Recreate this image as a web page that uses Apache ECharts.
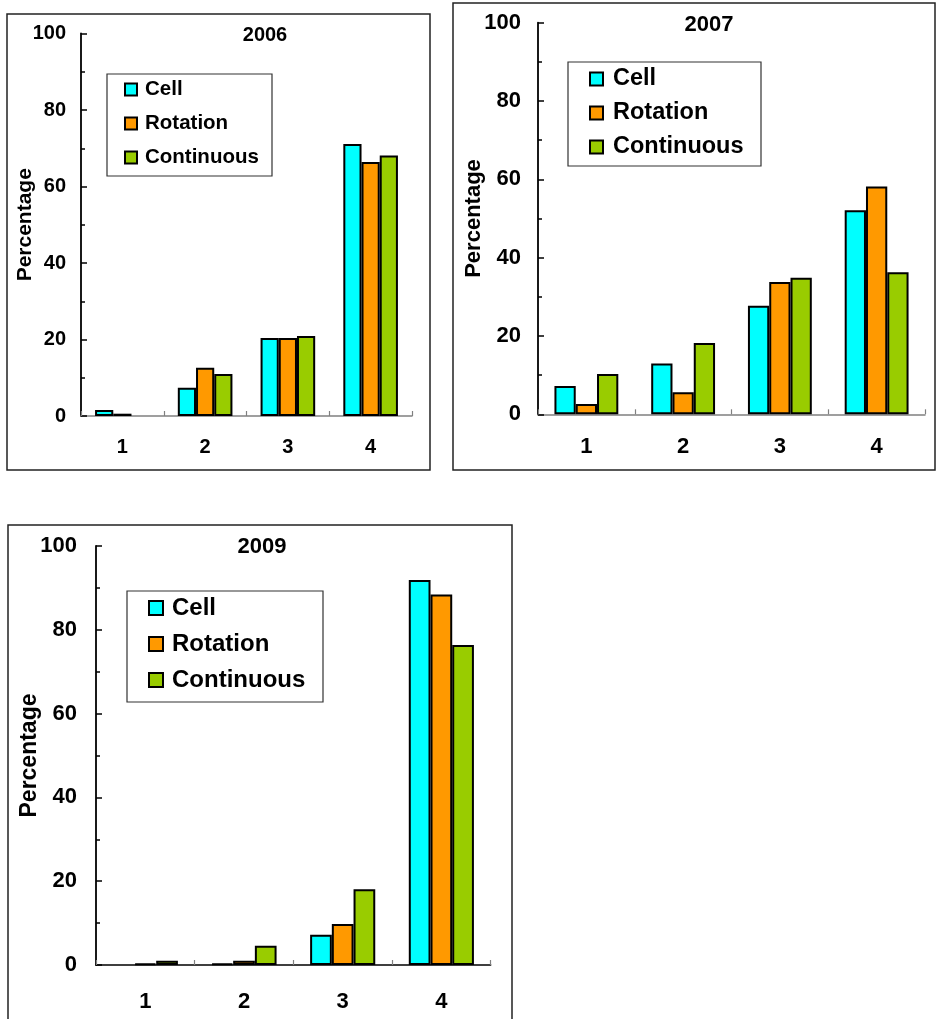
<!DOCTYPE html>
<html>
<head>
<meta charset="utf-8">
<style>
html,body{margin:0;padding:0;background:#fff;}
#chart{width:936px;height:1019px;}
</style>
<script src="https://cdn.jsdelivr.net/npm/echarts@6/dist/echarts.min.js"></script>
</head>
<body>
<div id="chart"></div>
<script>
const categories = ['1', '2', '3', '4'];
const seriesNames = ['Cell', 'Rotation', 'Continuous'];
const panelTitles = ['2006', '2007', '2009'];
const yTicks = [0, 20, 40, 60, 80, 100];

const cell2006 = [1.6, 7.4, 20.4, 71.1];
const rotation2006 = [0.6, 12.6, 20.4, 66.4];
const continuous2006 = [null, 11.0, 20.9, 68.1];

const cell2007 = [7.2, 13.0, 27.7, 52.1];
const rotation2007 = [2.6, 5.6, 33.8, 58.2];
const continuous2007 = [10.3, 18.2, 34.9, 36.3];

const cell2009 = [null, 0.3, 7.2, 91.9];
const rotation2009 = [0.3, 1.0, 9.8, 88.4];
const continuous2009 = [1.0, 4.6, 18.1, 76.4];

const FONT = '"Liberation Sans", Arial, sans-serif';
const colors = ['#00FFFF', '#FF9900', '#99CC00'];

const panelData = [
  [cell2006, rotation2006, continuous2006],
  [cell2007, rotation2007, continuous2007],
  [cell2009, rotation2009, continuous2009]
];

// layout per panel
const layout = [
  { grid: {left: 81, top: 33.5, width: 331, height: 382.5}, fs: 20, legFs: 20.5, nameFs: 21, labMargin: 15, xMargin: 21, nameGap: 45,
    title: {x: 265, y: 25}, legend: {left: 124, top: 79, gap: 13, icon: 12, tpad: 3},
    box: [107, 74, 165, 102], border: [7, 14, 423, 456], xColor: '#808080' },
  { grid: {left: 538, top: 22.7, width: 387, height: 391.6}, fs: 22, legFs: 23.5, nameFs: 22, labMargin: 17, xMargin: 22, nameGap: 53,
    title: {x: 709, y: 14}, legend: {left: 589, top: 67, gap: 10, icon: 13, tpad: 5},
    box: [568, 62, 193, 104], border: [453, 3, 482, 467], xColor: '#808080' },
  { grid: {left: 96, top: 546, width: 394.7, height: 419}, fs: 22, legFs: 24, nameFs: 23, labMargin: 19, xMargin: 26, nameGap: 55,
    title: {x: 262, y: 536}, legend: {left: 148, top: 596, gap: 12, icon: 14, tpad: 4},
    box: [127, 591, 196, 111], border: [8, 525, 504, 520], xColor: '#000' }
];

const grids = [], xAxes = [], yAxes = [], series = [], legends = [], titles = [], graphics = [];

layout.forEach((L, i) => {
  grids.push(Object.assign({containLabel: false}, L.grid));
  xAxes.push({
    type: 'category', gridIndex: i, data: categories,
    axisLine: {lineStyle: {color: L.xColor, width: 1.5}},
    axisTick: {show: true, inside: true, length: 5, lineStyle: {color: '#808080', width: 1.2}},
    axisLabel: {color: '#000', fontWeight: 'bold', fontSize: L.fs, fontFamily: FONT, margin: L.xMargin},
    splitLine: {show: false}
  });
  yAxes.push({
    type: 'value', gridIndex: i, min: yTicks[0], max: yTicks[yTicks.length - 1], interval: yTicks[1] - yTicks[0],
    name: 'Percentage', nameLocation: 'middle', nameRotate: 90, nameGap: L.nameGap,
    nameMoveOverlap: false,
    nameTextStyle: {color: '#000', fontWeight: 'bold', fontSize: L.nameFs, fontFamily: FONT},
    axisLine: {show: true, lineStyle: {color: '#000', width: 1.8}},
    axisTick: {show: true, inside: true, length: 6, lineStyle: {color: '#000', width: 1.5}},
    minorTick: {show: true, splitNumber: 2, length: 4, lineStyle: {color: '#000', width: 1.5}},
    axisLabel: {color: '#000', fontWeight: 'bold', fontSize: L.fs, fontFamily: FONT, margin: L.labMargin},
    splitLine: {show: false}
  });
  seriesNames.forEach((nm, k) => {
    series.push({
      type: 'bar', name: nm, xAxisIndex: i, yAxisIndex: i,
      data: panelData[i][k],
      barGap: '0%', barCategoryGap: '34%',
      itemStyle: {color: colors[k], borderColor: '#000', borderWidth: 2},
      emphasis: {disabled: true},
      animation: false
    });
  });
  legends.push({
    orient: 'vertical', left: L.legend.left, top: L.legend.top, padding: 0,
    itemGap: L.legend.gap, itemWidth: L.legend.icon, itemHeight: L.legend.icon,
    icon: 'rect', data: seriesNames, selectedMode: false,
    itemStyle: {borderColor: '#000', borderWidth: 2},
    textStyle: {color: '#000', fontWeight: 'bold', fontSize: L.legFs, fontFamily: FONT, padding: [0, 0, 0, L.legend.tpad]}
  });
  titles.push({
    text: panelTitles[i], left: L.title.x, top: L.title.y, textAlign: 'center', padding: 0,
    textStyle: {color: '#000', fontWeight: 'bold', fontSize: L.fs, fontFamily: FONT}
  });
  graphics.push({
    type: 'rect', shape: {x: L.border[0], y: L.border[1], width: L.border[2], height: L.border[3]},
    style: {fill: 'none', stroke: '#222', lineWidth: 1.5}, silent: true
  });
  graphics.push({
    type: 'rect', shape: {x: L.box[0], y: L.box[1], width: L.box[2], height: L.box[3]},
    style: {fill: 'none', stroke: '#333', lineWidth: 1.2}, silent: true
  });
});

const chart = echarts.init(document.getElementById('chart'), null, {renderer: 'canvas'});
chart.setOption({
  backgroundColor: '#fff',
  animation: false,
  title: titles,
  legend: legends,
  grid: grids,
  xAxis: xAxes,
  yAxis: yAxes,
  series: series,
  graphic: graphics
});
</script>
</body>
</html>
